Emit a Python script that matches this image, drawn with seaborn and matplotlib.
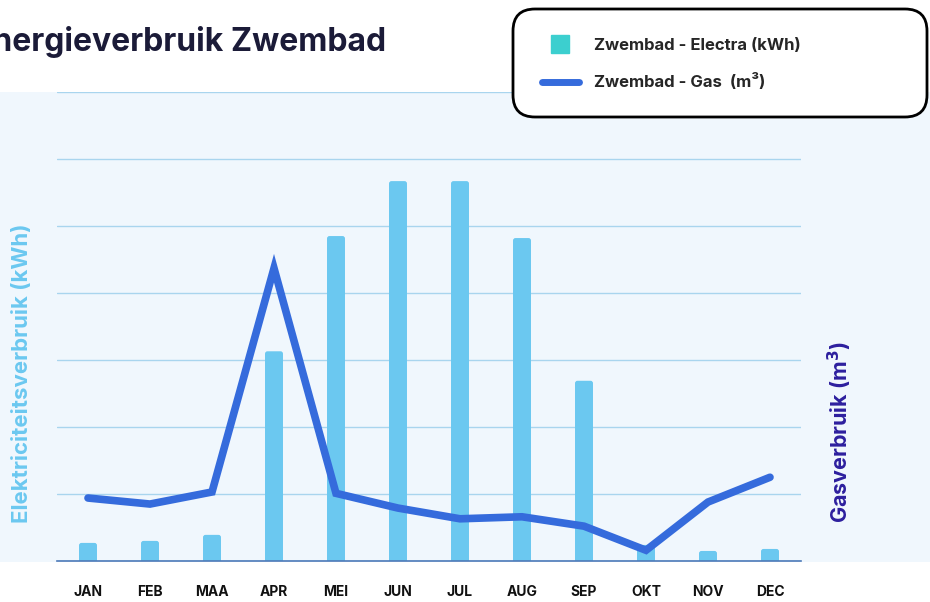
import seaborn as sns
import matplotlib.pyplot as plt
import numpy as np
import pandas as pd
from matplotlib.patches import FancyBboxPatch, Rectangle
from matplotlib.lines import Line2D
from matplotlib.transforms import IdentityTransform

# data
maanden = ['JAN', 'FEB', 'MAA', 'APR', 'MEI', 'JUN', 'JUL', 'AUG', 'SEP', 'OKT', 'NOV', 'DEC']
electra_kwh = [1350, 1500, 1950, 15650, 24250, 28350, 28350, 24100, 13450, 1200, 750, 900]
gas_m3 = [940, 850, 1030, 4370, 1010, 790, 630, 660, 520, 160, 880, 1250]

sns.set_theme(style='white')
plt.rcParams['font.family'] = ['Inter', 'DejaVu Sans']

bar_kleur = '#6bc8f0'
gas_kleur = '#356bdc'

df = pd.DataFrame({'maand': maanden, 'electra': electra_kwh, 'gas': gas_m3, 'pos': np.arange(12)})

fig = plt.figure(figsize=(9.3, 6.02), dpi=100)
fig.patch.set_facecolor('white')

# lichtblauw achtergrondvlak
fig.add_artist(Rectangle((0, 40 / 602), 1, 470 / 602, transform=fig.transFigure,
                         facecolor='#f0f7fd', edgecolor='none', zorder=0))

ax = fig.add_axes([57 / 930, 41 / 602, 744 / 930, 469 / 602])
ax.set_facecolor('none')
sns.barplot(data=df, x='maand', y='electra', color=bar_kleur, width=0.29,
            saturation=1, ax=ax, zorder=2)
ax.set_ylim(0, 35000)
ax.set_xlim(-0.5, 11.5)

# balken met afgeronde bovenkant
for p in list(ax.patches):
    x0, w, h = p.get_x(), p.get_width(), p.get_height()
    p.remove()
    ax.add_patch(FancyBboxPatch((x0, 0), w, h, boxstyle='round,pad=0,rounding_size=0.04',
                                mutation_aspect=35000 / 469 * 744 / 12,
                                facecolor=bar_kleur, edgecolor='none', zorder=2))
    ax.add_patch(Rectangle((x0, 0), w, min(h, 300), facecolor=bar_kleur,
                           edgecolor='none', zorder=2))

ax.set_yticks(np.arange(0, 35001, 5000))
ax.set_yticklabels([])
ax.yaxis.grid(True, color='#a9d5ee', lw=1)
ax.set_axisbelow(True)
ax.set_xlabel('')
ax.set_ylabel('')
ax.tick_params(axis='y', length=0)
ax.tick_params(axis='x', length=0, pad=17, labelsize=10)
for lbl in ax.get_xticklabels():
    lbl.set_fontweight('bold')
    lbl.set_color('#111111')
for s in ['left', 'right', 'top']:
    ax.spines[s].set_visible(False)
ax.spines['bottom'].set_color('#4d7ab8')
ax.spines['bottom'].set_linewidth(1.2)

ax2 = ax.twinx()
sns.lineplot(data=df, x='pos', y='gas', color=gas_kleur, lw=5.5, ax=ax2,
             solid_capstyle='round', solid_joinstyle='miter')
ax2.set_ylim(0, 7000)
ax2.set_yticks([])
ax2.set_ylabel('')
ax2.set_xlim(-0.5, 11.5)
for s in ax2.spines.values():
    s.set_visible(False)

# titel (links afgesneden, zoals in het origineel)
fig.text(-27 / 930, 1 - 42 / 602, 'Energieverbruik Zwembad', fontsize=23, fontweight='bold',
         color='#1b1b38', va='center', ha='left')

# as-labels
fig.text(22 / 930, 1 - 523 / 602, 'Elektriciteitsverbruik (kWh)', rotation=90, fontsize=16,
         fontweight='bold', color=bar_kleur, ha='center', va='bottom')
fig.text(840 / 930, 1 - 523 / 602, 'Gasverbruik (m$^\\mathbf{3}$)', rotation=90, fontsize=15.5,
         fontweight='bold', color='#2d1f9e', ha='center', va='bottom')

# legenda
fig.add_artist(FancyBboxPatch((513, 602 - 117), 414, 108, transform=IdentityTransform(),
                              boxstyle='round,pad=0,rounding_size=22', facecolor='white',
                              edgecolor='black', lw=2, zorder=5))
handles = [Line2D([], [], marker='s', markersize=13, color='#3ccfcf', linestyle='none'),
           Line2D([], [], color=gas_kleur, lw=5, solid_capstyle='round')]
labels = ['Zwembad - Electra (kWh)', 'Zwembad - Gas  (m³)']
leg = fig.legend(handles, labels, loc='center left', bbox_to_anchor=(527 / 930, 1 - 64 / 602),
                 frameon=False, handlelength=2.2, handletextpad=0.9, labelspacing=1.25,
                 prop={'weight': 'bold', 'size': 12})
leg.set_zorder(6)

fig.savefig('out.png', dpi=100)
